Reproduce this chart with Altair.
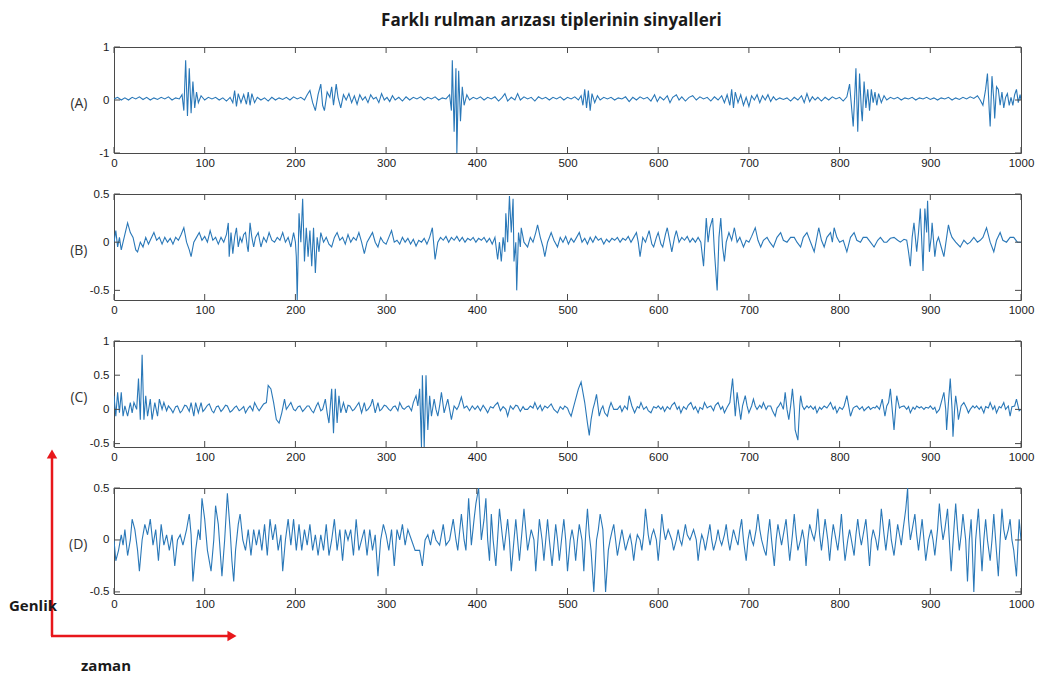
import altair as alt
import pandas as pd

# ---------------- data ----------------
a_x = [0,4,8,12,16,20,24,28,32,36,40,44,48,52,56,60,64,68,72,75,77,79,81,83,85,87,89,91,93,96,100,104,108,112,116,120,124,128,131,133,135,137,140,143,146,148,150,152,155,158,162,166,170,174,178,182,186,190,194,198,202,206,210,213,216,219,222,225,228,230,232,235,238,240,242,245,247,250,253,256,259,262,265,268,271,274,277,280,283,286,289,292,295,298,301,304,307,310,314,318,322,326,330,334,338,342,346,350,354,358,362,366,370,372,373,375,377,378,380,382,384,386,389,392,396,400,404,408,412,416,420,424,428,431,434,438,442,445,448,452,456,460,464,468,472,476,480,484,488,492,496,500,504,508,512,515,517,519,521,523,525,527,530,533,536,540,544,548,552,556,560,564,568,572,576,580,584,588,592,596,599,602,606,610,613,616,620,623,626,630,634,638,642,646,650,654,658,662,666,670,673,676,679,681,683,685,688,691,694,697,700,703,706,709,712,715,718,721,724,727,730,734,738,742,746,750,754,758,761,764,767,770,773,776,780,784,788,792,796,800,804,808,811,813,815,817,818,820,822,824,825,827,829,831,833,835,837,839,841,843,846,849,852,856,860,864,868,872,876,880,884,888,892,896,900,904,908,912,916,920,924,928,932,936,940,944,948,952,955,958,961,963,965,966,968,970,971,973,975,977,979,981,983,985,987,989,991,993,995,997,999,1000]
a_y = [0.02,0.05,0.0,0.04,0.0,0.05,0.02,0.06,0.01,0.05,0.0,0.04,0.01,0.05,0.02,0.06,0.0,0.04,0.02,0.1,-0.2,0.75,-0.3,0.6,-0.25,0.35,-0.15,0.15,-0.05,0.08,0.0,0.05,0.02,0.05,0.0,0.04,-0.02,0.05,-0.05,0.18,-0.12,0.12,-0.05,0.1,-0.08,0.15,-0.1,0.12,-0.05,0.05,0.0,0.04,-0.02,0.05,0.0,0.04,0.01,0.05,0.0,0.06,0.02,0.05,0.0,0.1,0.18,-0.05,-0.2,0.1,0.3,-0.1,-0.2,0.15,0.05,0.25,-0.1,0.3,0.05,-0.15,0.1,0.0,0.12,-0.05,0.08,-0.08,0.1,0.0,0.06,-0.05,0.1,0.02,0.05,-0.05,0.12,0.0,0.05,-0.03,0.08,0.0,0.05,-0.02,0.06,0.0,0.05,0.02,0.06,0.0,0.05,0.02,0.06,0.0,0.04,0.02,0.1,-0.2,0.75,-0.6,0.6,-1.0,0.55,-0.4,0.25,-0.1,0.1,0.0,0.05,0.02,0.06,0.0,0.05,0.02,0.06,-0.02,0.05,0.12,-0.02,0.05,0.0,0.12,0.0,0.06,0.02,0.05,-0.02,0.06,0.02,0.05,0.0,0.05,0.02,0.06,0.0,0.05,0.02,0.06,0.0,0.08,-0.1,0.2,-0.15,0.18,-0.2,0.12,-0.05,0.08,0.0,0.05,0.02,0.05,0.0,0.04,0.02,0.06,-0.03,0.05,0.0,0.06,0.02,0.05,-0.02,0.1,-0.03,0.06,0.0,0.08,-0.05,0.05,0.1,0.0,0.06,-0.02,0.05,0.08,0.0,0.06,0.02,0.05,-0.02,0.06,0.0,0.08,-0.05,0.1,-0.1,0.2,-0.15,0.15,-0.05,0.1,-0.1,0.05,-0.12,0.08,0.0,0.1,-0.05,0.08,0.0,0.1,-0.03,0.06,0.0,0.04,0.01,0.04,-0.02,0.05,0.0,0.08,-0.05,0.12,-0.03,0.06,0.0,0.05,-0.02,0.05,0.0,0.06,0.02,0.05,-0.02,0.06,0.3,-0.1,-0.5,0.2,0.6,-0.6,0.5,-0.2,-0.4,0.35,-0.15,0.2,-0.2,0.2,-0.05,0.15,-0.1,0.12,-0.05,0.08,0.0,0.05,0.02,0.05,0.0,0.04,0.02,0.05,0.0,0.04,0.02,0.05,0.01,0.04,0.0,0.04,0.02,0.05,0.0,0.04,0.01,0.05,0.02,0.06,0.03,0.08,0.0,-0.1,0.2,0.5,-0.2,-0.5,0.45,0.0,-0.35,0.25,0.2,-0.1,0.15,-0.15,0.05,0.12,-0.1,0.05,-0.1,0.1,0.2,-0.05,0.1,0.0]

b_x = [0,2,4,6,8,10,12,15,18,21,24,26,29,32,35,38,41,44,47,50,53,56,59,62,65,68,71,74,77,80,83,85,88,91,94,97,100,103,106,109,112,115,118,121,124,126,127,129,131,133,135,137,139,141,143,145,147,148,150,152,154,156,159,162,165,168,171,174,177,180,183,186,189,192,195,198,200,201,202,204,206,208,210,212,214,216,218,220,222,224,226,228,231,234,237,240,243,246,249,252,255,258,261,264,267,270,273,276,279,282,285,288,291,294,297,300,303,306,309,312,315,318,321,324,327,330,333,336,339,342,345,348,351,354,357,360,363,366,369,372,375,378,381,384,387,390,393,396,399,402,405,408,411,414,417,420,423,425,427,429,431,432,434,436,438,440,441,443,444,446,448,449,452,456,459,462,465,467,470,473,475,478,482,485,489,492,495,498,501,504,507,510,513,516,519,522,525,528,531,534,537,540,543,546,549,552,555,558,561,564,567,570,573,576,578,580,583,586,590,593,595,598,600,603,605,608,610,613,615,618,620,623,626,629,632,635,638,641,644,647,650,653,655,657,660,662,665,667,669,671,673,675,678,681,684,687,690,694,697,700,703,707,710,713,716,720,723,727,731,735,738,742,746,750,753,757,760,764,768,772,775,777,780,783,786,790,792,794,797,800,804,808,812,816,819,823,826,830,834,838,842,845,849,852,856,860,864,867,871,874,876,878,880,882,885,887,889,892,894,896,897,899,901,902,905,907,909,912,915,918,920,922,924,928,933,937,941,944,948,952,955,958,962,966,970,973,977,980,984,988,992,996,1000]
b_y = [0.0,0.12,-0.05,0.05,-0.08,0.0,0.08,0.2,0.1,0.05,-0.08,-0.1,0.0,-0.05,0.05,-0.02,0.04,0.1,0.02,0.05,-0.02,0.05,0.0,0.04,-0.02,0.05,0.02,0.08,0.15,0.0,-0.08,-0.15,0.0,0.05,0.1,0.02,0.06,0.0,0.12,0.02,0.05,-0.02,0.05,0.0,0.08,0.2,-0.15,0.1,-0.12,0.05,0.15,-0.05,0.05,0.0,0.08,0.1,-0.05,-0.1,0.2,0.05,-0.05,0.05,0.1,-0.05,0.05,0.0,0.1,0.02,0.0,0.05,0.02,0.1,0.0,0.05,-0.05,0.1,0.0,-0.15,-0.6,0.3,0.0,0.45,-0.2,0.15,-0.15,0.12,-0.25,0.15,-0.32,0.05,-0.1,0.1,0.0,0.05,-0.02,-0.05,0.05,0.1,0.02,0.05,-0.02,0.08,0.0,0.05,0.02,0.1,0.0,-0.12,0.0,0.05,0.1,0.0,-0.05,0.05,0.0,-0.02,0.05,0.12,0.0,0.02,-0.02,0.05,0.0,0.04,-0.02,0.03,-0.04,0.02,0.0,0.04,-0.02,0.05,0.15,-0.18,0.0,0.05,0.02,0.06,0.0,0.05,0.02,0.06,0.01,0.05,0.0,0.04,0.02,0.05,0.0,0.04,0.02,0.05,0.0,0.04,-0.02,0.05,-0.18,0.0,-0.2,0.05,-0.1,0.3,0.0,0.48,0.1,0.45,-0.2,0.0,-0.5,0.1,-0.05,0.15,0.0,-0.05,0.05,0.0,0.1,0.18,0.05,-0.05,-0.15,0.0,0.1,0.02,-0.05,0.05,0.0,0.06,-0.02,0.04,0.0,0.05,0.1,0.0,0.04,-0.02,0.05,0.0,0.06,0.02,0.04,-0.02,0.03,0.0,0.04,0.02,0.05,0.0,0.04,0.02,0.06,0.0,0.05,0.1,0.0,-0.15,0.05,0.0,0.12,-0.02,-0.05,0.05,0.1,-0.02,-0.05,0.08,0.15,0.0,-0.1,0.05,0.12,0.0,0.05,0.02,0.06,0.0,0.04,0.0,0.05,0.0,-0.25,0.25,0.0,0.15,0.25,-0.1,-0.5,0.05,0.25,-0.05,-0.2,0.0,0.1,0.02,0.15,0.0,0.05,-0.05,0.02,0.0,0.06,0.15,0.02,-0.05,0.02,0.05,0.0,-0.05,0.05,0.1,0.02,0.0,0.05,0.05,0.0,-0.05,0.05,0.1,0.0,-0.1,0.05,0.15,0.02,-0.05,0.05,0.1,0.0,0.15,0.05,0.0,0.02,-0.1,0.05,0.1,0.02,0.0,0.05,0.05,0.0,-0.05,0.02,0.05,0.0,0.0,0.04,0.05,0.02,0.0,0.03,0.02,-0.1,-0.25,0.05,0.2,-0.1,0.1,0.35,-0.3,0.35,0.1,0.43,-0.1,0.05,0.2,-0.15,0.0,0.05,-0.05,-0.15,0.05,0.18,0.1,0.05,0.0,-0.05,0.02,-0.02,0.0,0.05,0.0,0.02,0.05,0.15,0.0,-0.1,0.02,0.1,0.02,0.0,0.05,0.05,0.0,0.0]

c_x = [0,2,4,6,8,10,12,15,18,20,22,25,27,29,31,33,35,37,40,42,45,48,50,53,55,58,60,63,65,68,70,73,75,78,80,83,85,88,90,93,96,98,100,103,105,108,110,113,115,118,120,123,125,128,130,133,135,138,140,143,145,148,150,153,155,158,160,163,165,168,170,173,176,179,182,185,188,190,193,195,198,200,203,205,208,210,213,215,218,220,223,225,228,230,233,235,237,240,242,244,246,248,250,253,256,258,260,263,265,268,270,273,276,278,280,283,285,288,291,293,295,298,300,303,305,308,310,313,315,318,320,323,325,328,330,333,335,337,339,340,342,344,346,348,350,353,355,357,359,361,364,366,368,370,372,375,378,380,383,386,389,392,395,398,401,404,407,410,412,415,418,420,423,426,429,432,434,437,440,443,445,448,451,453,456,459,462,464,467,470,472,475,478,482,485,489,492,495,497,500,502,504,507,510,512,515,517,519,522,524,526,528,530,532,535,537,539,541,544,546,548,551,555,558,560,563,566,568,571,574,577,579,581,584,587,589,592,595,598,600,603,605,607,610,613,615,618,621,623,625,628,631,633,636,639,641,644,646,649,651,654,656,658,661,663,666,669,671,673,676,679,682,685,687,689,691,693,696,698,700,703,705,707,709,712,714,716,719,721,724,726,729,731,733,735,738,740,742,744,746,748,750,751,754,756,757,759,761,764,766,768,771,773,775,778,780,783,786,788,790,793,795,797,800,803,805,808,810,812,815,817,819,822,825,827,830,832,834,837,839,841,844,847,850,852,854,856,858,860,862,863,866,868,871,874,876,878,881,883,885,888,890,893,895,898,900,903,905,907,910,912,915,917,918,920,922,924,925,927,928,930,931,934,937,940,942,944,947,949,951,954,956,959,961,964,966,969,971,973,976,978,981,983,986,988,990,993,995,998,1000]
c_y = [0.2,-0.1,0.25,-0.05,0.25,-0.1,0.05,-0.1,0.1,-0.05,0.1,0.0,0.45,-0.15,0.8,-0.15,0.2,-0.1,0.15,-0.15,0.1,-0.1,0.15,0.0,0.1,-0.02,0.05,0.0,-0.05,0.04,0.05,-0.05,-0.02,0.06,0.05,-0.03,0.1,-0.1,0.1,-0.05,0.1,-0.03,0.0,0.06,0.08,-0.02,-0.05,0.04,0.05,-0.03,0.0,0.06,0.05,-0.04,-0.02,0.03,0.05,-0.02,0.0,0.04,-0.05,0.02,0.05,-0.02,0.1,0.02,-0.02,0.04,0.08,0.1,0.35,0.3,0.1,-0.15,-0.2,-0.05,0.15,0.0,0.06,0.1,0.0,-0.02,0.04,0.05,-0.03,0.0,0.05,0.05,-0.02,-0.05,0.05,0.1,-0.02,0.0,0.15,-0.05,-0.2,0.3,-0.35,0.3,-0.2,0.2,-0.05,0.1,-0.05,0.06,0.05,-0.02,0.0,0.06,0.1,-0.05,0.1,-0.02,0.0,0.06,0.15,-0.05,0.1,-0.02,0.0,0.06,0.05,0.0,-0.02,0.04,0.05,-0.02,0.1,0.02,0.0,0.04,0.05,-0.02,0.1,0.2,0.05,0.3,-0.55,0.5,-0.55,0.5,-0.3,0.2,-0.1,0.15,0.0,-0.1,0.05,0.25,-0.05,0.05,0.15,0.0,-0.15,0.05,0.0,0.05,0.18,0.02,0.05,-0.02,0.05,0.0,0.05,-0.02,0.06,0.0,-0.05,0.04,0.02,0.06,0.1,-0.02,0.04,0.0,-0.1,0.05,0.0,0.06,0.05,-0.03,0.04,0.0,0.0,0.05,0.02,0.1,0.0,0.06,-0.02,0.05,0.02,0.08,0.0,-0.05,0.04,0.0,0.05,0.02,-0.05,-0.1,0.05,0.2,0.3,0.4,0.25,0.1,-0.2,-0.38,-0.15,0.0,0.1,0.22,-0.1,0.0,0.05,-0.05,-0.1,0.02,0.1,0.0,0.0,0.05,-0.03,0.05,0.0,0.2,0.05,-0.05,0.04,0.02,0.1,0.0,0.04,-0.02,-0.05,0.04,0.02,0.05,0.0,0.04,-0.03,0.04,0.0,0.06,0.1,0.0,0.04,-0.05,0.04,0.0,0.06,0.1,0.0,0.04,-0.05,0.03,0.0,0.1,0.02,0.04,0.05,-0.02,0.06,0.1,0.0,0.04,-0.05,0.03,0.1,0.45,-0.1,0.25,0.05,-0.15,0.05,0.2,0.05,-0.05,0.05,0.15,0.05,0.0,0.06,0.02,0.1,0.0,0.05,0.05,-0.02,-0.1,0.02,0.05,0.1,0.0,0.25,0.0,-0.15,0.05,0.3,0.0,-0.3,-0.45,0.05,0.2,0.05,0.0,0.05,0.02,0.05,0.0,0.04,-0.05,0.03,0.0,0.05,0.02,0.06,0.1,0.0,0.04,-0.05,0.03,0.0,0.05,0.2,0.05,-0.1,0.02,0.04,0.05,0.0,0.04,-0.02,0.02,0.04,0.0,0.03,0.02,0.05,0.0,0.15,-0.1,0.05,0.1,0.3,0.0,-0.3,0.05,0.2,0.02,0.04,0.05,0.0,0.04,-0.05,0.03,0.0,0.05,0.02,0.04,0.0,0.03,0.02,0.05,0.0,0.03,-0.05,0.0,0.1,0.25,0.0,-0.3,0.1,0.45,0.0,-0.4,0.05,0.2,0.0,-0.15,0.05,0.1,0.02,-0.05,0.0,0.05,0.02,0.05,0.0,0.04,-0.05,0.04,0.02,0.1,0.0,0.05,-0.05,0.04,0.02,0.1,0.0,0.05,-0.1,0.04,0.05,0.15,-0.02,0.0]

d_x = [0,2,5,8,10,12,15,18,20,23,26,28,31,34,37,40,43,46,49,52,55,58,61,64,67,70,73,76,80,83,85,87,90,93,95,97,100,103,107,110,112,115,117,119,122,125,128,130,132,134,137,139,142,145,148,151,154,157,160,163,166,169,172,175,178,181,184,186,189,192,195,198,201,204,207,210,213,216,219,222,225,228,231,234,237,240,243,246,249,252,255,258,261,264,267,270,273,276,279,282,285,288,291,294,297,300,303,306,309,312,315,318,321,324,328,332,337,340,343,346,349,352,355,359,363,366,370,374,377,379,383,386,388,391,394,397,399,402,405,408,410,412,414,416,418,421,425,428,430,434,436,438,443,445,447,450,452,456,460,463,465,469,472,474,478,480,483,487,489,491,494,496,498,500,503,505,507,509,511,513,516,518,520,522,524,526,529,532,534,536,539,542,545,547,549,551,553,555,558,560,562,564,567,569,571,573,575,577,580,582,584,586,589,591,593,595,598,600,602,604,606,608,611,613,615,617,620,622,624,626,628,630,632,635,637,639,642,644,646,648,650,652,655,657,659,661,664,666,668,670,673,675,677,679,681,683,686,688,690,692,694,697,699,701,703,705,708,710,712,714,717,719,721,723,725,728,730,732,734,736,739,741,743,745,748,750,752,754,757,759,761,763,765,767,770,772,774,776,778,780,782,784,787,789,791,793,796,798,800,802,804,806,809,811,813,816,818,820,822,824,826,829,831,833,835,837,840,842,844,846,849,851,853,855,857,860,862,864,866,868,870,873,875,876,878,880,883,885,887,889,891,893,895,898,901,903,905,908,910,912,914,916,919,921,923,926,928,930,932,934,936,939,941,943,945,946,948,950,953,955,957,959,961,963,966,968,970,972,975,977,979,981,983,986,988,990,992,995,998,1000]
d_y = [0.0,-0.2,-0.1,0.05,-0.05,0.1,-0.15,0.0,0.2,0.1,-0.1,-0.3,0.0,0.15,0.05,0.2,-0.05,0.1,-0.2,0.15,-0.05,0.05,-0.1,0.05,-0.25,0.0,0.05,-0.05,0.1,0.25,0.05,-0.4,-0.1,0.1,0.0,0.4,0.2,-0.1,-0.3,0.0,0.33,0.15,-0.1,-0.35,0.0,0.45,0.1,-0.2,-0.4,-0.1,0.15,0.25,0.0,-0.1,0.1,-0.15,0.1,-0.05,0.1,-0.1,0.15,-0.15,0.2,0.0,0.15,-0.1,0.05,-0.3,0.0,0.2,-0.05,0.2,-0.1,0.15,-0.1,0.1,-0.05,0.15,-0.1,0.05,-0.15,0.05,-0.1,0.15,-0.15,0.0,0.2,-0.1,0.1,-0.2,0.1,0.0,0.1,-0.15,0.2,-0.1,0.0,0.1,-0.15,0.1,-0.1,0.05,-0.35,0.0,0.15,0.05,-0.1,0.1,-0.25,0.1,0.0,0.15,-0.05,0.1,0.0,-0.1,-0.1,-0.25,0.0,0.05,-0.05,0.1,0.0,-0.05,0.15,-0.05,0.0,0.2,0.0,-0.1,0.25,0.0,-0.1,0.4,-0.05,0.2,0.35,0.5,0.0,0.2,0.4,0.0,-0.2,0.25,0.0,-0.25,0.3,0.05,-0.1,0.2,0.0,-0.3,0.2,0.0,-0.2,0.1,0.3,-0.1,0.1,0.0,-0.3,0.2,0.0,-0.2,0.2,0.0,-0.25,0.15,0.0,-0.2,0.05,0.2,0.0,-0.3,0.0,0.1,0.0,-0.2,0.0,0.15,0.0,-0.3,0.05,0.3,0.05,-0.1,-0.5,0.0,0.1,0.25,0.1,-0.5,-0.1,0.0,0.08,0.15,0.0,-0.15,0.0,0.1,0.0,-0.1,0.0,0.05,-0.05,-0.2,-0.05,0.05,0.0,-0.1,0.05,0.3,0.05,-0.05,0.05,0.1,0.0,-0.2,0.0,0.25,0.1,0.0,0.1,0.05,0.0,-0.1,0.0,0.1,0.0,-0.05,0.05,0.15,0.05,0.0,0.05,0.1,0.0,-0.2,-0.05,0.05,0.0,-0.1,0.05,0.15,0.0,-0.1,0.0,0.1,0.0,-0.05,0.05,0.15,0.0,-0.1,0.0,0.1,0.0,-0.05,0.1,0.2,0.0,-0.2,0.0,0.1,0.0,-0.05,0.1,0.25,0.1,0.0,-0.1,-0.15,0.05,0.2,0.0,-0.25,0.0,0.15,0.05,-0.05,0.1,0.2,0.0,-0.2,0.05,0.25,0.05,-0.1,0.0,0.1,0.0,-0.25,0.0,0.15,0.05,0.0,0.1,0.3,0.05,-0.1,0.05,0.2,0.0,-0.2,0.0,0.15,0.0,-0.1,0.05,0.25,0.0,-0.2,0.0,0.1,0.0,-0.15,0.05,0.2,0.05,-0.05,0.05,0.2,0.0,-0.25,0.0,0.1,0.0,-0.1,0.05,0.3,0.05,-0.1,0.05,0.2,0.0,-0.15,0.0,0.15,0.05,-0.05,0.1,0.3,0.5,0.2,0.0,0.1,0.25,0.05,-0.1,0.05,0.2,0.0,-0.2,0.0,0.1,0.0,-0.15,0.1,0.35,0.15,0.0,0.1,0.3,0.0,-0.3,0.1,0.35,0.1,-0.1,0.05,0.25,0.0,-0.4,0.0,0.2,0.0,-0.5,0.0,0.3,0.0,-0.3,0.0,0.2,0.0,-0.2,0.0,0.25,0.0,-0.35,0.0,0.3,0.1,0.0,0.1,0.2,0.0,-0.1,-0.35,0.2,0.0]

x_ticks = [0, 100, 200, 300, 400, 500, 600, 700, 800, 900, 1000]
panel_labels = ["(A)", "(B)", "(C)", "(D)"]
title_text = "Farklı rulman arızası tiplerinin sinyalleri"

# ---------------- styling ----------------
W, H = 907, 106
LINE = "#2a78b8"
FRAME = "#4a4a4a"
RED = "#e8171b"
TICK_LEN = 6
LABEL_EXPR = "'' + datum.value"
LBL_FONT = "Liberation Sans"
LBL_COLOR = "#1a1a1a"


def panel(xs, ys, dom, yticks, label, extra=None):
    df = pd.DataFrame({"t": xs, "v": ys})
    xsc = alt.Scale(domain=[0, 1000], nice=False, zero=False)
    ysc = alt.Scale(domain=dom, nice=False, zero=False)
    x_axis = alt.Axis(values=x_ticks, labelExpr=LABEL_EXPR, ticks=False, domain=False,
                      grid=False, title=None, labelPadding=4, labelFontSize=11.5,
                      labelFlush=False, labelFont=LBL_FONT, labelColor=LBL_COLOR)
    y_axis = alt.Axis(values=yticks, labelExpr=LABEL_EXPR, ticks=False, domain=False,
                      grid=False, title=label, titleAngle=0, titleX=-27, titleY=H / 2 + 3,
                      titleAlign="right", titleBaseline="middle", titleFontSize=14,
                      titleFontWeight="normal", titleFont="Open Sans", titleColor="#333333",
                      labelPadding=5, labelFontSize=11.5, labelFlush=False,
                      labelFont=LBL_FONT, labelColor=LBL_COLOR)
    line = alt.Chart(df).mark_line(color=LINE, strokeWidth=1.1, clip=True).encode(
        x=alt.X("t:Q", scale=xsc, axis=x_axis),
        y=alt.Y("v:Q", scale=ysc, axis=y_axis),
    )
    xt = pd.DataFrame({"t": x_ticks})
    yt = pd.DataFrame({"v": yticks})
    top_t = alt.Chart(xt).mark_rule(color=FRAME, strokeWidth=1).encode(
        x=alt.X("t:Q", scale=xsc, axis=x_axis), y=alt.value(0), y2=alt.value(TICK_LEN))
    bot_t = alt.Chart(xt).mark_rule(color=FRAME, strokeWidth=1).encode(
        x=alt.X("t:Q", scale=xsc, axis=x_axis), y=alt.value(H - TICK_LEN), y2=alt.value(H))
    left_t = alt.Chart(yt).mark_rule(color=FRAME, strokeWidth=1).encode(
        y=alt.Y("v:Q", scale=ysc, axis=y_axis), x=alt.value(0), x2=alt.value(TICK_LEN))
    right_t = alt.Chart(yt).mark_rule(color=FRAME, strokeWidth=1).encode(
        y=alt.Y("v:Q", scale=ysc, axis=y_axis), x=alt.value(W - TICK_LEN), x2=alt.value(W))
    layers = [line, top_t, bot_t, left_t, right_t]
    if extra:
        layers += extra
    return alt.layer(*layers).properties(width=W, height=H)


# ---------------- annotation (axes arrows) ----------------
one = pd.DataFrame({"k": [0]})
AX, AY = -62, 148  # arrow corner relative to panel D
v_shaft = alt.Chart(one).mark_rule(color=RED, strokeWidth=2.5).encode(
    x=alt.value(AX), y=alt.value(AY), y2=alt.value(-31))
h_shaft = alt.Chart(one).mark_rule(color=RED, strokeWidth=2.5).encode(
    x=alt.value(AX - 1), x2=alt.value(115), y=alt.value(AY))
v_head = alt.Chart(one).mark_point(shape="triangle-up", filled=True, color=RED, size=110, opacity=1).encode(
    x=alt.value(AX), y=alt.value(-34))
h_head = alt.Chart(one).mark_point(shape="triangle-right", filled=True, color=RED, size=110, opacity=1).encode(
    x=alt.value(118), y=alt.value(AY))
genlik = alt.Chart(pd.DataFrame({"s": ["Genlik"]})).mark_text(
    align="left", baseline="middle", fontSize=15, fontWeight="bold", font="Open Sans", color="#1a1a1a"
).encode(text="s:N", x=alt.value(-105), y=alt.value(118))
zaman = alt.Chart(pd.DataFrame({"s": ["zaman"]})).mark_text(
    align="left", baseline="middle", fontSize=15, fontWeight="bold", font="Open Sans", color="#1a1a1a"
).encode(text="s:N", x=alt.value(-33), y=alt.value(178))

pa = panel(a_x, a_y, [-1, 1], [-1, 0, 1], panel_labels[0])
pb = panel(b_x, b_y, [-0.6, 0.5], [-0.5, 0, 0.5], panel_labels[1])
pc = panel(c_x, c_y, [-0.55, 1], [-0.5, 0, 0.5, 1], panel_labels[2])
pd_ = panel(d_x, d_y, [-0.52, 0.5], [-0.5, 0, 0.5], panel_labels[3],
            extra=[v_shaft, h_shaft, v_head, h_head, genlik, zaman])

chart = alt.vconcat(pa, pb, pc, pd_, spacing=41, bounds="flush").properties(
    title=alt.TitleParams(title_text, fontSize=17, fontWeight="bold", font="Open Sans",
                          color="#1a1a1a", anchor="middle", dx=30, offset=11),
    padding={"left": 0, "top": 3, "right": 0, "bottom": 0},
).configure_view(stroke=FRAME, strokeWidth=1)

chart.save("out.html", embed_options={"renderer": "svg", "actions": False})
